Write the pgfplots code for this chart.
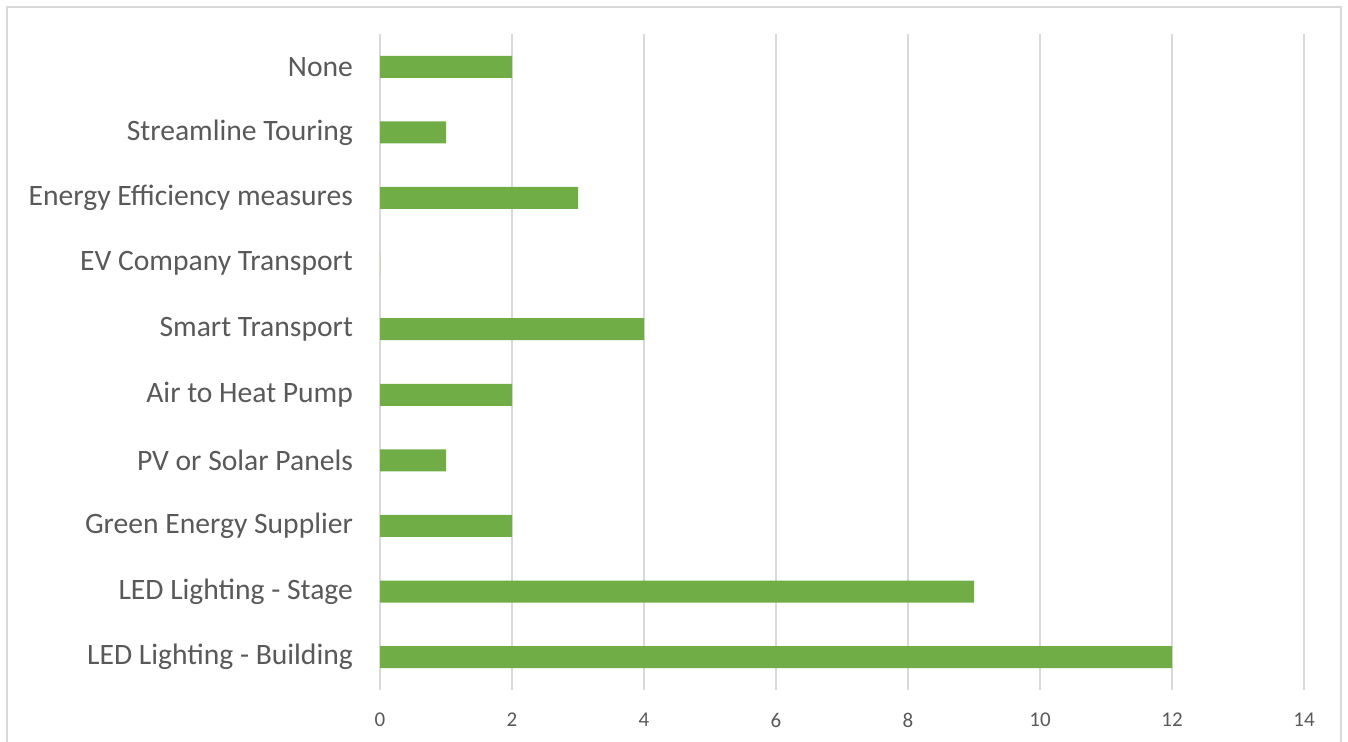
\documentclass[border=0pt]{standalone}
\usepackage{pgfplots}
\pgfplotsset{compat=1.18}
\usepackage{fontspec}
\setmainfont{Carlito}
\definecolor{bargreen}{HTML}{70AD47}
\definecolor{gridgray}{HTML}{D9D9D9}
\definecolor{txtgray}{HTML}{595959}
\begin{document}
\begin{tikzpicture}
\path[use as bounding box] (0,0) rectangle (674pt,371pt);
\draw[gridgray, line width=0.6pt] (3.5pt,-3pt) rectangle (670.5pt,367.5pt);
\begin{axis}[
  at={(190pt,26pt)}, anchor=south west,
  scale only axis, width=462pt, height=328pt,
  xbar, bar width=11pt,
  xmin=0, xmax=14, ymin=-0.5, ymax=9.5,
  xtick={0,2,...,14},
  ytick={0,...,9},
  yticklabels={LED Lighting - Building, LED Lighting - Stage, Green Energy Supplier, PV or Solar Panels, Air to Heat Pump, Smart Transport, EV Company Transport, Energy Efficiency measures, Streamline Touring, None},
  axis line style={draw=none},
  major tick length=0pt,
  xmajorgrids, grid style={gridgray, line width=0.6pt},
  ymajorgrids=false,
  tick label style={text=txtgray},
  xticklabel style={font=\fontsize{10.5}{12}\selectfont, yshift=-8pt},
  yticklabel style={font=\fontsize{14.8}{16}\selectfont, xshift=-10pt},
  /pgf/number format/assume math mode=true,
  clip=false,
]
\addplot[fill=bargreen, draw=none] coordinates {
(12,0) (9,1) (2,2) (1,3) (2,4) (4,5) (0,6) (3,7) (1,8) (2,9)
};
\end{axis}
\end{tikzpicture}
\end{document}
